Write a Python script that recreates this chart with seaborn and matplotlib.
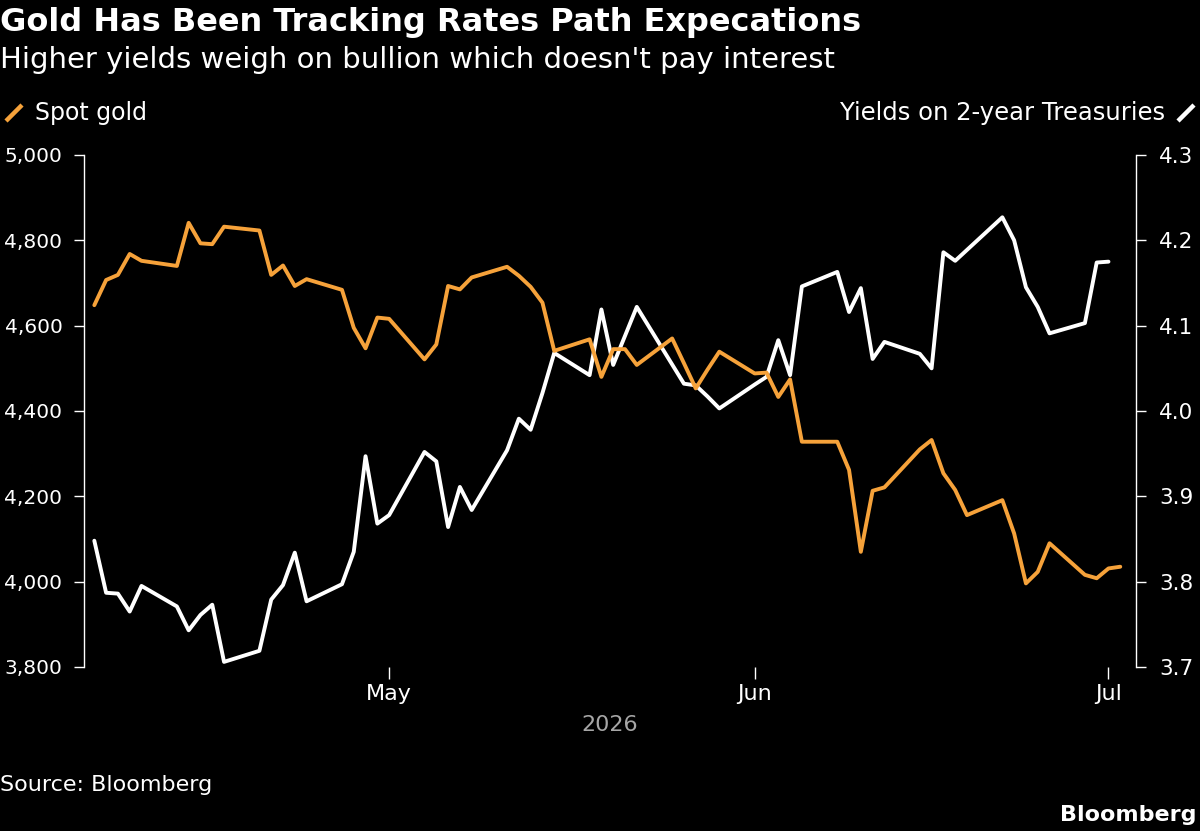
import matplotlib
matplotlib.use("Agg")
import matplotlib.pyplot as plt
from matplotlib.lines import Line2D
from matplotlib.ticker import FuncFormatter, FixedLocator
import seaborn as sns
import pandas as pd

# ---------------- data ----------------
gold_dates = [
    "2026-04-06", "2026-04-07", "2026-04-08", "2026-04-09", "2026-04-10",
    "2026-04-13", "2026-04-14", "2026-04-15", "2026-04-16", "2026-04-17",
    "2026-04-20", "2026-04-21", "2026-04-22", "2026-04-23", "2026-04-24",
    "2026-04-27", "2026-04-28", "2026-04-29", "2026-04-30", "2026-05-01",
    "2026-05-04", "2026-05-05", "2026-05-06", "2026-05-07", "2026-05-08",
    "2026-05-11", "2026-05-12", "2026-05-13", "2026-05-14", "2026-05-15",
    "2026-05-18", "2026-05-19", "2026-05-20", "2026-05-21", "2026-05-22",
    "2026-05-25", "2026-05-26", "2026-05-27", "2026-05-28", "2026-05-29",
    "2026-06-01", "2026-06-02", "2026-06-03", "2026-06-04", "2026-06-05",
    "2026-06-08", "2026-06-09", "2026-06-10", "2026-06-11", "2026-06-12",
    "2026-06-15", "2026-06-16", "2026-06-17", "2026-06-18", "2026-06-19",
    "2026-06-22", "2026-06-23", "2026-06-24", "2026-06-25", "2026-06-26",
    "2026-06-29", "2026-06-30", "2026-07-01", "2026-07-02",
]
gold_values = [
    4648, 4707, 4719, 4768, 4752,
    4740, 4841, 4793, 4791, 4832,
    4823, 4719, 4741, 4693, 4709,
    4684, 4595, 4547, 4619, 4616,
    4521, 4556, 4693, 4685, 4713,
    4738, 4717, 4691, 4654, 4541,
    4568, 4480, 4545, 4545, 4508,
    4570, 4512, 4453, 4497, 4539,
    4488, 4490, 4433, 4474, 4328,
    4328, 4262, 4070, 4213, 4221,
    4310, 4332, 4254, 4215, 4156,
    4191, 4113, 3996, 4023, 4090,
    4016, 4008, 4031, 4035,
]

yield_dates = [
    "2026-04-06", "2026-04-07", "2026-04-08", "2026-04-09", "2026-04-10",
    "2026-04-13", "2026-04-14", "2026-04-15", "2026-04-16", "2026-04-17",
    "2026-04-20", "2026-04-21", "2026-04-22", "2026-04-23", "2026-04-24",
    "2026-04-27", "2026-04-28", "2026-04-29", "2026-04-30", "2026-05-01",
    "2026-05-04", "2026-05-05", "2026-05-06", "2026-05-07", "2026-05-08",
    "2026-05-11", "2026-05-12", "2026-05-13", "2026-05-14", "2026-05-15",
    "2026-05-18", "2026-05-19", "2026-05-20", "2026-05-21", "2026-05-22",
    "2026-05-26", "2026-05-27", "2026-05-28", "2026-05-29",
    "2026-06-01", "2026-06-02", "2026-06-03", "2026-06-04", "2026-06-05",
    "2026-06-08", "2026-06-09", "2026-06-10", "2026-06-11", "2026-06-12",
    "2026-06-15", "2026-06-16", "2026-06-17", "2026-06-18",
    "2026-06-22", "2026-06-23", "2026-06-24", "2026-06-25", "2026-06-26",
    "2026-06-29", "2026-06-30", "2026-07-01",
]
yield_values = [
    3.848, 3.787, 3.786, 3.765, 3.795,
    3.771, 3.743, 3.761, 3.773, 3.706,
    3.719, 3.779, 3.796, 3.834, 3.777,
    3.797, 3.835, 3.947, 3.868, 3.878,
    3.952, 3.941, 3.864, 3.911, 3.884,
    3.954, 3.991, 3.978, 4.021, 4.068,
    4.042, 4.119, 4.054, 4.088, 4.122,
    4.032, 4.030, 4.017, 4.003,
    4.031, 4.040, 4.083, 4.042, 4.146,
    4.163, 4.116, 4.144, 4.061, 4.081,
    4.067, 4.050, 4.186, 4.176,
    4.227, 4.200, 4.145, 4.122, 4.091,
    4.103, 4.174, 4.175,
]

x_tick_dates = ["2026-05-01", "2026-06-01", "2026-07-01"]
x_tick_labels = ["May", "Jun", "Jul"]
gold_ticks = [3800, 4000, 4200, 4400, 4600, 4800, 5000]
yield_ticks = [3.7, 3.8, 3.9, 4.0, 4.1, 4.2, 4.3]

title = "Gold Has Been Tracking Rates Path Expecations"
subtitle = "Higher yields weigh on bullion which doesn't pay interest"
gold_label = "Spot gold"
yield_label = "Yields on 2-year Treasuries"
year_label = "2026"
source = "Source: Bloomberg"
brand = "Bloomberg"

# ---------------- style ----------------
GOLD = "#F6A23A"
WHITE = "#FFFFFF"
GREY = "#A6A6A6"
W, H = 1200, 831

sns.set_theme(style="dark")
plt.rcParams["font.family"] = ["DejaVu Sans"]
plt.rcParams["axes.facecolor"] = "black"
plt.rcParams["figure.facecolor"] = "black"

fig = plt.figure(figsize=(12, 8.31), dpi=100, facecolor="black")
ax = fig.add_axes([84 / W, 1 - 667 / H, (1136 - 84) / W, (667 - 155) / H])
ax2 = ax.twinx()

gdf = pd.DataFrame({"date": pd.to_datetime(gold_dates), "value": gold_values})
ydf = pd.DataFrame({"date": pd.to_datetime(yield_dates), "value": yield_values})

sns.lineplot(data=ydf, x="date", y="value", ax=ax2, color=WHITE, linewidth=2.8)
sns.lineplot(data=gdf, x="date", y="value", ax=ax, color=GOLD, linewidth=2.8)

# put gold line above white line
ax.set_zorder(ax2.get_zorder() + 1)
ax.patch.set_visible(False)
ax2.patch.set_facecolor("black")

ax.set_xlim(pd.Timestamp("2026-04-05 03:00"), pd.Timestamp("2026-07-03 08:00"))
ax.set_ylim(gold_ticks[0], gold_ticks[-1])
ax2.set_ylim(yield_ticks[0], yield_ticks[-1])

ax.xaxis.set_major_locator(FixedLocator(
    [matplotlib.dates.date2num(pd.Timestamp(d)) for d in x_tick_dates]))
ax.set_xticklabels(x_tick_labels)
ax.yaxis.set_major_locator(FixedLocator(gold_ticks))
ax.yaxis.set_major_formatter(FuncFormatter(lambda v, p: f"{v:,.0f}"))
ax2.yaxis.set_major_locator(FixedLocator(yield_ticks))
ax2.yaxis.set_major_formatter(FuncFormatter(lambda v, p: f"{v:.1f}"))

for a in (ax, ax2):
    a.grid(False)
    a.set_ylabel("")
    for s in ("top", "bottom"):
        a.spines[s].set_visible(False)
ax.spines["right"].set_visible(False)
ax2.spines["left"].set_visible(False)
ax.spines["left"].set_color(WHITE)
ax.spines["left"].set_linewidth(1.0)
ax2.spines["right"].set_color(WHITE)
ax2.spines["right"].set_linewidth(1.0)

ax.tick_params(axis="y", which="major", direction="out", length=7.5, width=1.0,
               color=WHITE, labelcolor=WHITE, labelsize=14.5, pad=8, left=True)
ax2.tick_params(axis="y", which="major", direction="out", length=7.5, width=1.0,
                color=WHITE, labelcolor=WHITE, labelsize=15.5, pad=9, right=True)
ax.tick_params(axis="x", which="major", direction="out", length=8.5, width=1.0,
               color=WHITE, labelcolor=WHITE, labelsize=16, pad=4, bottom=True)
ax.set_xlabel(year_label, color=GREY, fontsize=16, labelpad=8)

# ---------------- texts ----------------
fig.text(0.0, 1 - 31 / H, title, fontsize=23, fontweight="bold", color=WHITE, va="baseline")
fig.text(0.0, 1 - 68 / H, subtitle, fontsize=21, color=WHITE, va="baseline")
fig.text(35 / W, 1 - 120 / H, gold_label, fontsize=17, color=WHITE, va="baseline")
fig.text(1165 / W, 1 - 120 / H, yield_label, fontsize=17.5, color=WHITE, va="baseline", ha="right")
fig.add_artist(Line2D([6 / W, 22 / W], [1 - 121 / H, 1 - 105 / H], color=GOLD, linewidth=3.2,
                      solid_capstyle="butt", transform=fig.transFigure))
fig.add_artist(Line2D([1178 / W, 1194 / W], [1 - 121 / H, 1 - 105 / H], color=WHITE, linewidth=3.2,
                      solid_capstyle="butt", transform=fig.transFigure))
fig.text(0.0, 1 - 791 / H, source, fontsize=16, color=WHITE, va="baseline")
fig.text(1197 / W, 1 - 821 / H, brand, fontsize=16, fontweight="bold", color=WHITE,
         va="baseline", ha="right")

fig.savefig("out.png", dpi=100, facecolor="black")
